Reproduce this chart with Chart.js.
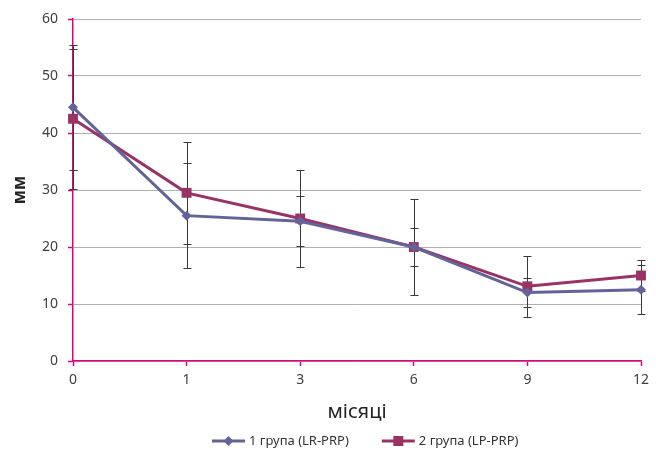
<!DOCTYPE html>
<html>
<head>
<meta charset="utf-8">
<script src="https://cdn.jsdelivr.net/npm/chart.js@4/dist/chart.umd.min.js"></script>
<style>
  html, body { margin: 0; padding: 0; background: #fff; }
  #wrap { width: 656px; height: 455px; }
</style>
</head>
<body>
<div id="wrap"><canvas id="myChart" width="656" height="455"></canvas></div>
<script>
const months = ["0", "1", "3", "6", "9", "12"];
const group1 = [44.5, 25.5, 24.5, 20, 12, 12.5];
const group2 = [42.5, 29.5, 25, 20, 13.1, 15];
const group1Err = [11, 9.2, 4.4, 3.3, 2.6, 4.3];
const group2Err = [12.3, 9, 8.5, 8.4, 5.3, 2.7];
const seriesNames = ["1 група (LR-PRP)", "2 група (LP-PRP)"];

const BLUE = "#646399";
const PLUM = "#993366";
const PINK = "#e4007c";
const FONT = "'Noto Sans', 'Open Sans', sans-serif";

// error bars under the lines
const errorBars = {
  id: "errorBars",
  beforeDatasetsDraw(chart) {
    const { ctx, scales: { x, y } } = chart;
    ctx.save();
    ctx.strokeStyle = "#3a3a3a";
    ctx.lineWidth = 1;
    chart.data.datasets.forEach((ds) => {
      ds.data.forEach((v, j) => {
        const px = Math.round(x.getPixelForValue(j)) + 0.5;
        const top = Math.round(y.getPixelForValue(v + ds.errors[j])) + 0.5;
        const bot = Math.round(y.getPixelForValue(v - ds.errors[j])) + 0.5;
        ctx.beginPath();
        ctx.moveTo(px, top);
        ctx.lineTo(px, bot);
        ctx.moveTo(px - 4, top);
        ctx.lineTo(px + 4, top);
        ctx.moveTo(px - 4, bot);
        ctx.lineTo(px + 4, bot);
        ctx.stroke();
      });
    });
    ctx.restore();
  },
};

// legend with line + marker samples
const lineLegend = {
  id: "lineLegend",
  afterDraw(chart) {
    const ctx = chart.ctx;
    const yMid = 441;
    let x = 212;
    ctx.save();
    ctx.font = "13px " + FONT;
    ctx.textBaseline = "middle";
    chart.data.datasets.forEach((ds, i) => {
      ctx.strokeStyle = ds.borderColor;
      ctx.lineWidth = 3;
      ctx.beginPath();
      ctx.moveTo(x, yMid);
      ctx.lineTo(x + 33, yMid);
      ctx.stroke();
      const cx = x + 16.5;
      ctx.fillStyle = ds.borderColor;
      ctx.beginPath();
      if (ds.pointStyle === "rectRot") {
        ctx.moveTo(cx, yMid - 5);
        ctx.lineTo(cx + 5, yMid);
        ctx.lineTo(cx, yMid + 5);
        ctx.lineTo(cx - 5, yMid);
        ctx.closePath();
      } else {
        ctx.rect(cx - 5, yMid - 5, 10, 10);
      }
      ctx.fill();
      ctx.fillStyle = "#333";
      ctx.fillText(ds.label, x + 37, yMid);
      x += 37 + ctx.measureText(ds.label).width + 33;
    });
    ctx.restore();
  },
};

const ctx = document.getElementById("myChart").getContext("2d");
const myChart = new Chart(ctx, {
  type: "line",
  data: {
    labels: months,
    datasets: [
      {
        label: seriesNames[0],
        data: group1,
        errors: group1Err,
        borderColor: BLUE,
        backgroundColor: BLUE,
        borderWidth: 3,
        pointStyle: "rectRot",
        pointRadius: 5,
        pointBorderWidth: 0,
        tension: 0,
        clip: false,
      },
      {
        label: seriesNames[1],
        data: group2,
        errors: group2Err,
        borderColor: PLUM,
        backgroundColor: PLUM,
        borderWidth: 3,
        pointStyle: "rect",
        pointRadius: 7,
        pointBorderWidth: 0,
        tension: 0,
        clip: false,
      },
    ],
  },
  options: {
    responsive: false,
    animation: false,
    layout: { padding: { top: 19, right: 15, left: 0, bottom: 30 } },
    plugins: {
      legend: { display: false },
      tooltip: { enabled: false },
    },
    scales: {
      x: {
        type: "category",
        offset: false,
        afterFit: (s) => { s.height = 64; },
        grid: {
          drawOnChartArea: false,
          tickColor: PINK,
          tickLength: 5,
          tickWidth: 1.5,
        },
        border: { color: PINK, width: 1.5 },
        ticks: { color: "#404040", font: { family: FONT, size: 14 }, padding: 6, maxRotation: 0 },
        title: {
          display: true,
          text: "місяці",
          color: "#222",
          font: { family: FONT, size: 20 },
          padding: { top: 0, bottom: 1 },
        },
      },
      y: {
        min: 0,
        max: 60,
        afterFit: (s) => { s.width = 73; },
        grid: {
          color: "#b0b0b0",
          lineWidth: 1,
          tickColor: PINK,
          tickLength: 5,
          tickWidth: 1.5,
        },
        border: { color: PINK, width: 1.5 },
        ticks: { stepSize: 10, color: "#404040", font: { family: FONT, size: 14 }, padding: 10 },
        title: {
          display: true,
          text: "мм",
          color: "#222",
          font: { family: FONT, size: 17, weight: "bold" },
          padding: { top: 10, bottom: 0 },
        },
      },
    },
  },
  plugins: [errorBars, lineLegend],
});
</script>
</body>
</html>
